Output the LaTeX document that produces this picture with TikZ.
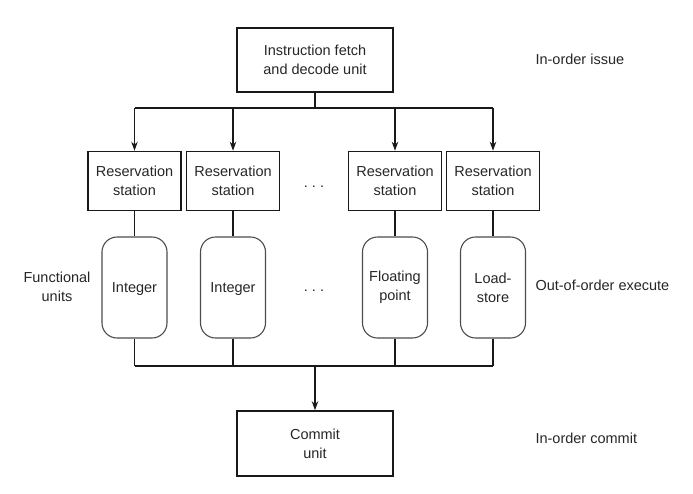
\documentclass[tikz,border=0pt]{standalone}
\usepackage{fontspec}
\setmainfont{Liberation Sans}
\usetikzlibrary{arrows.meta}
\begin{document}
\begin{tikzpicture}[x=1pt,y=-1pt,
  every node/.style={font=\fontsize{14.5}{19}\selectfont, text=black!85},
  blk/.style={draw=black!90, line width=1.6pt, align=center, inner sep=0pt},
  fu/.style={draw=black!70, line width=1.1pt, rounded corners=15pt, align=center, inner sep=0pt, minimum width=65pt, minimum height=101pt},
  rs/.style={blk, minimum width=93pt, minimum height=59pt},
  wire/.style={draw=black!90, line width=1.3pt},
  arr/.style={wire, -{Stealth[length=9pt,width=6.5pt]}},
  lbl/.style={align=center}
]
\useasboundingbox (0,0) rectangle (693,493);
\node[blk, minimum width=156pt, minimum height=64pt] (top) at (315,60) {Instruction fetch\\and decode unit};
\node[rs] (rs1) at (134.5,181) {Reservation\\station};
\node[rs] (rs2) at (233,181) {Reservation\\station};
\node[rs] (rs3) at (395,181) {Reservation\\station};
\node[rs] (rs4) at (493,181) {Reservation\\station};
\node[fu, text depth=0pt] (fu1) at (134.5,287.5) {Integer};
\node[fu, text depth=0pt] (fu2) at (233,287.5) {Integer};
\node[fu] (fu3) at (395,287.5) {Floating\\point};
\node[fu] (fu4) at (493,287.5) {Load-\\store};
\node[blk, minimum width=156pt, minimum height=65pt] (cu) at (315,443.5) {Commit\\unit};
\node (d1) at (314,187) {.\ .\ .};
\node (d2) at (314,291) {.\ .\ .};
\node[lbl, anchor=west] (l1) at (532,59) {In-order issue};
\node[lbl, anchor=west] (l2) at (532,285) {Out-of-order execute};
\node[lbl, anchor=west] (l3) at (532,438) {In-order commit};
\node[lbl] (l4) at (57,287) {Functional\\units};
\coordinate (bt) at (315,108);
\coordinate (bb) at (315,366);
\draw[wire] (top.south) -- (bt);
\draw[wire] (rs1.north |- bt) -- (rs4.north |- bt);
\foreach \r in {rs1,rs2,rs3,rs4}{
  \draw[arr] (\r.north |- bt) -- (\r.north);
}
\foreach \r/\f in {rs1/fu1,rs2/fu2,rs3/fu3,rs4/fu4}{
  \draw[wire] (\r.south) -- (\f.north);
  \draw[wire] (\f.south) -- (\f.south |- bb);
}
\draw[wire] (fu1.south |- bb) -- (fu4.south |- bb);
\draw[arr] (bb) -- (cu.north);
\end{tikzpicture}
\end{document}
